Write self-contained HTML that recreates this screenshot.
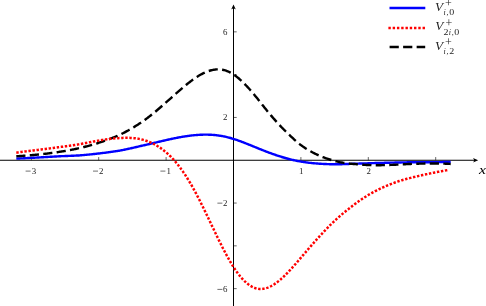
<!DOCTYPE html>
<html><head><meta charset="utf-8"><title>plot</title>
<style>html,body{margin:0;padding:0;background:#fff;overflow:hidden}body{width:486px;height:306px;position:relative;font-family:"Liberation Serif",serif}</style>
</head><body>
<svg width="486" height="306" viewBox="0 0 486 306" style="position:absolute;left:0;top:0;will-change:transform">
<line x1="0" y1="160.25" x2="475" y2="160.25" stroke="#000" stroke-width="1"/>
<line x1="233.5" y1="306" x2="233.5" y2="7.6" stroke="#000" stroke-width="1"/>
<path d="M478.2,160.25 L473.0,157.95 Q475.1,160.25 473.0,162.55 Z" fill="#000"/>
<path d="M233.5,4.4 L231.2,9.6 Q233.5,7.5 235.8,9.6 Z" fill="#000"/>
<line x1="31.30" y1="160.25" x2="31.30" y2="157.05" stroke="#000" stroke-width="0.6"/>
<line x1="98.70" y1="160.25" x2="98.70" y2="157.05" stroke="#000" stroke-width="0.6"/>
<line x1="166.10" y1="160.25" x2="166.10" y2="157.05" stroke="#000" stroke-width="0.6"/>
<line x1="300.90" y1="160.25" x2="300.90" y2="157.05" stroke="#000" stroke-width="0.6"/>
<line x1="368.30" y1="160.25" x2="368.30" y2="157.05" stroke="#000" stroke-width="0.6"/>
<line x1="435.70" y1="160.25" x2="435.70" y2="157.05" stroke="#000" stroke-width="0.6"/>
<line x1="233.5" y1="288.65" x2="236.7" y2="288.65" stroke="#000" stroke-width="0.6"/>
<line x1="233.5" y1="245.85" x2="236.7" y2="245.85" stroke="#000" stroke-width="0.6"/>
<line x1="233.5" y1="203.05" x2="236.7" y2="203.05" stroke="#000" stroke-width="0.6"/>
<line x1="233.5" y1="117.45" x2="236.7" y2="117.45" stroke="#000" stroke-width="0.6"/>
<line x1="233.5" y1="74.65" x2="236.7" y2="74.65" stroke="#000" stroke-width="0.6"/>
<line x1="233.5" y1="31.85" x2="236.7" y2="31.85" stroke="#000" stroke-width="0.6"/>
<line x1="25.60" y1="171.10" x2="30.60" y2="171.10" stroke="#111" stroke-width="0.6"/>
<text transform="translate(33.90,173.60) scale(1.2,1)" text-anchor="middle" style="font-family:'Liberation Serif',serif;font-size:7.4px;fill:#222">3</text>
<line x1="93.00" y1="171.10" x2="98.00" y2="171.10" stroke="#111" stroke-width="0.6"/>
<text transform="translate(101.30,173.60) scale(1.2,1)" text-anchor="middle" style="font-family:'Liberation Serif',serif;font-size:7.4px;fill:#222">2</text>
<line x1="160.40" y1="171.10" x2="165.40" y2="171.10" stroke="#111" stroke-width="0.6"/>
<text transform="translate(168.70,173.60) scale(1.2,1)" text-anchor="middle" style="font-family:'Liberation Serif',serif;font-size:7.4px;fill:#222">1</text>
<text transform="translate(301.20,173.60) scale(1.2,1)" text-anchor="middle" style="font-family:'Liberation Serif',serif;font-size:7.4px;fill:#222">1</text>
<text transform="translate(368.60,173.60) scale(1.2,1)" text-anchor="middle" style="font-family:'Liberation Serif',serif;font-size:7.4px;fill:#222">2</text>
<text transform="translate(225.20,291.90) scale(1.2,1)" text-anchor="middle" style="font-family:'Liberation Serif',serif;font-size:7.4px;fill:#222">6</text>
<line x1="217.40" y1="289.40" x2="222.40" y2="289.40" stroke="#111" stroke-width="0.6"/>
<text transform="translate(225.20,205.65) scale(1.2,1)" text-anchor="middle" style="font-family:'Liberation Serif',serif;font-size:7.4px;fill:#222">2</text>
<line x1="217.40" y1="203.15" x2="222.40" y2="203.15" stroke="#111" stroke-width="0.6"/>
<text transform="translate(225.20,120.10) scale(1.2,1)" text-anchor="middle" style="font-family:'Liberation Serif',serif;font-size:7.4px;fill:#222">2</text>
<text transform="translate(225.20,34.90) scale(1.2,1)" text-anchor="middle" style="font-family:'Liberation Serif',serif;font-size:7.4px;fill:#222">6</text>
<path d="M16.30,158.65 L17.17,158.61 L18.04,158.56 L18.91,158.51 L19.78,158.47 L20.65,158.42 L21.52,158.37 L22.39,158.33 L23.26,158.28 L24.13,158.24 L25.01,158.19 L25.88,158.14 L26.75,158.10 L27.62,158.05 L28.49,158.01 L29.36,157.96 L30.23,157.92 L31.10,157.87 L31.97,157.82 L32.84,157.78 L33.71,157.73 L34.58,157.69 L35.45,157.64 L36.32,157.59 L37.19,157.55 L38.06,157.50 L38.93,157.45 L39.80,157.41 L40.68,157.36 L41.55,157.31 L42.42,157.27 L43.29,157.22 L44.16,157.17 L45.03,157.12 L45.90,157.07 L46.77,157.02 L47.64,156.97 L48.51,156.92 L49.38,156.87 L50.25,156.82 L51.12,156.77 L51.99,156.72 L52.86,156.67 L53.73,156.62 L54.60,156.56 L55.47,156.51 L56.34,156.46 L57.22,156.40 L58.09,156.35 L58.96,156.29 L59.83,156.24 L60.70,156.20 L61.57,156.17 L62.44,156.14 L63.31,156.11 L64.18,156.08 L65.05,156.05 L65.92,156.02 L66.79,155.98 L67.66,155.95 L68.53,155.91 L69.40,155.88 L70.27,155.84 L71.14,155.81 L72.01,155.77 L72.89,155.73 L73.76,155.69 L74.63,155.65 L75.50,155.61 L76.37,155.56 L77.24,155.52 L78.11,155.48 L78.98,155.43 L79.85,155.38 L80.72,155.31 L81.59,155.24 L82.46,155.16 L83.33,155.08 L84.20,155.00 L85.07,154.92 L85.94,154.84 L86.81,154.75 L87.68,154.67 L88.55,154.58 L89.43,154.49 L90.30,154.41 L91.17,154.32 L92.04,154.23 L92.91,154.13 L93.78,154.04 L94.65,153.95 L95.52,153.85 L96.39,153.75 L97.26,153.66 L98.13,153.56 L99.00,153.46 L99.87,153.35 L100.74,153.25 L101.61,153.14 L102.48,153.04 L103.35,152.93 L104.22,152.82 L105.10,152.71 L105.97,152.59 L106.84,152.48 L107.71,152.36 L108.58,152.25 L109.45,152.13 L110.32,152.01 L111.19,151.88 L112.06,151.76 L112.93,151.63 L113.80,151.51 L114.67,151.38 L115.54,151.25 L116.41,151.11 L117.28,150.98 L118.15,150.84 L119.02,150.71 L119.89,150.57 L120.76,150.40 L121.64,150.23 L122.51,150.06 L123.38,149.88 L124.25,149.70 L125.12,149.52 L125.99,149.34 L126.86,149.16 L127.73,148.98 L128.60,148.79 L129.47,148.60 L130.34,148.41 L131.21,148.22 L132.08,148.02 L132.95,147.82 L133.82,147.62 L134.69,147.42 L135.56,147.22 L136.43,147.01 L137.31,146.81 L138.18,146.60 L139.05,146.39 L139.92,146.17 L140.79,145.98 L141.66,145.79 L142.53,145.60 L143.40,145.40 L144.27,145.21 L145.14,145.01 L146.01,144.81 L146.88,144.61 L147.75,144.41 L148.62,144.21 L149.49,144.00 L150.36,143.80 L151.23,143.59 L152.10,143.39 L152.97,143.18 L153.85,142.98 L154.72,142.77 L155.59,142.56 L156.46,142.36 L157.33,142.15 L158.20,141.94 L159.07,141.74 L159.94,141.53 L160.81,141.32 L161.68,141.12 L162.55,140.92 L163.42,140.71 L164.29,140.51 L165.16,140.31 L166.03,140.12 L166.90,139.92 L167.77,139.72 L168.64,139.53 L169.52,139.34 L170.39,139.15 L171.26,138.96 L172.13,138.77 L173.00,138.59 L173.87,138.41 L174.74,138.23 L175.61,138.06 L176.48,137.89 L177.35,137.72 L178.22,137.55 L179.09,137.39 L179.96,137.23 L180.83,137.07 L181.70,136.92 L182.57,136.77 L183.44,136.63 L184.31,136.49 L185.18,136.35 L186.06,136.22 L186.93,136.09 L187.80,135.97 L188.67,135.85 L189.54,135.73 L190.41,135.62 L191.28,135.52 L192.15,135.42 L193.02,135.33 L193.89,135.24 L194.76,135.16 L195.63,135.08 L196.50,135.01 L197.37,134.94 L198.24,134.88 L199.11,134.83 L199.98,134.78 L200.85,134.74 L201.73,134.71 L202.60,134.68 L203.47,134.66 L204.34,134.64 L205.21,134.64 L206.08,134.64 L206.95,134.64 L207.82,134.66 L208.69,134.68 L209.56,134.71 L210.43,134.75 L211.30,134.79 L212.17,134.85 L213.04,134.91 L213.91,134.98 L214.78,135.06 L215.65,135.14 L216.52,135.24 L217.39,135.34 L218.27,135.45 L219.14,135.58 L220.01,135.71 L220.88,135.85 L221.75,136.00 L222.62,136.16 L223.49,136.32 L224.36,136.50 L225.23,136.69 L226.10,136.89 L226.97,137.10 L227.84,137.31 L228.71,137.54 L229.58,137.78 L230.45,138.02 L231.32,138.27 L232.19,138.53 L233.06,138.80 L233.94,139.07 L234.81,139.35 L235.68,139.64 L236.55,139.93 L237.42,140.23 L238.29,140.53 L239.16,140.84 L240.03,141.16 L240.90,141.48 L241.77,141.80 L242.64,142.13 L243.51,142.47 L244.38,142.80 L245.25,143.14 L246.12,143.49 L246.99,143.83 L247.86,144.18 L248.73,144.53 L249.61,144.88 L250.48,145.23 L251.35,145.59 L252.22,145.94 L253.09,146.30 L253.96,146.65 L254.83,147.01 L255.70,147.36 L256.57,147.72 L257.44,148.07 L258.31,148.43 L259.18,148.78 L260.05,149.13 L260.92,149.47 L261.79,149.82 L262.66,150.16 L263.53,150.51 L264.40,150.85 L265.27,151.18 L266.15,151.52 L267.02,151.85 L267.89,152.18 L268.76,152.51 L269.63,152.83 L270.50,153.15 L271.37,153.47 L272.24,153.78 L273.11,154.09 L273.98,154.40 L274.85,154.70 L275.72,155.00 L276.59,155.30 L277.46,155.59 L278.33,155.88 L279.20,156.16 L280.07,156.44 L280.94,156.72 L281.82,156.99 L282.69,157.25 L283.56,157.51 L284.43,157.77 L285.30,158.02 L286.17,158.27 L287.04,158.51 L287.91,158.74 L288.78,158.97 L289.65,159.19 L290.52,159.41 L291.39,159.62 L292.26,159.83 L293.13,160.03 L294.00,160.23 L294.87,160.41 L295.74,160.60 L296.61,160.77 L297.48,160.95 L298.36,161.11 L299.23,161.27 L300.10,161.43 L300.97,161.58 L301.84,161.72 L302.71,161.87 L303.58,162.00 L304.45,162.13 L305.32,162.26 L306.19,162.38 L307.06,162.49 L307.93,162.61 L308.80,162.71 L309.67,162.82 L310.54,162.92 L311.41,163.01 L312.28,163.10 L313.15,163.19 L314.03,163.27 L314.90,163.35 L315.77,163.43 L316.64,163.50 L317.51,163.57 L318.38,163.63 L319.25,163.69 L320.12,163.75 L320.99,163.80 L321.86,163.86 L322.73,163.90 L323.60,163.95 L324.47,163.99 L325.34,164.03 L326.21,164.07 L327.08,164.10 L327.95,164.14 L328.82,164.17 L329.69,164.19 L330.57,164.22 L331.44,164.24 L332.31,164.26 L333.18,164.28 L334.05,164.30 L334.92,164.31 L335.79,164.30 L336.66,164.29 L337.53,164.28 L338.40,164.26 L339.27,164.24 L340.14,164.22 L341.01,164.20 L341.88,164.18 L342.75,164.15 L343.62,164.13 L344.49,164.10 L345.36,164.07 L346.24,164.04 L347.11,164.01 L347.98,163.98 L348.85,163.94 L349.72,163.91 L350.59,163.87 L351.46,163.83 L352.33,163.79 L353.20,163.75 L354.07,163.71 L354.94,163.66 L355.81,163.65 L356.68,163.63 L357.55,163.61 L358.42,163.59 L359.29,163.56 L360.16,163.54 L361.03,163.52 L361.90,163.49 L362.78,163.47 L363.65,163.44 L364.52,163.42 L365.39,163.39 L366.26,163.36 L367.13,163.33 L368.00,163.30 L368.87,163.27 L369.74,163.24 L370.61,163.21 L371.48,163.18 L372.35,163.15 L373.22,163.12 L374.09,163.09 L374.96,163.06 L375.83,163.03 L376.70,163.01 L377.57,162.99 L378.45,162.97 L379.32,162.94 L380.19,162.92 L381.06,162.90 L381.93,162.88 L382.80,162.85 L383.67,162.83 L384.54,162.81 L385.41,162.79 L386.28,162.77 L387.15,162.74 L388.02,162.72 L388.89,162.70 L389.76,162.68 L390.63,162.66 L391.50,162.64 L392.37,162.62 L393.24,162.60 L394.11,162.58 L394.99,162.56 L395.86,162.54 L396.73,162.52 L397.60,162.50 L398.47,162.48 L399.34,162.46 L400.21,162.44 L401.08,162.43 L401.95,162.41 L402.82,162.39 L403.69,162.38 L404.56,162.36 L405.43,162.34 L406.30,162.33 L407.17,162.31 L408.04,162.30 L408.91,162.28 L409.78,162.27 L410.66,162.26 L411.53,162.24 L412.40,162.24 L413.27,162.24 L414.14,162.24 L415.01,162.24 L415.88,162.24 L416.75,162.25 L417.62,162.25 L418.49,162.25 L419.36,162.25 L420.23,162.26 L421.10,162.26 L421.97,162.26 L422.84,162.27 L423.71,162.27 L424.58,162.28 L425.45,162.28 L426.32,162.28 L427.20,162.29 L428.07,162.29 L428.94,162.30 L429.81,162.30 L430.68,162.29 L431.55,162.28 L432.42,162.26 L433.29,162.24 L434.16,162.23 L435.03,162.21 L435.90,162.20 L436.77,162.18 L437.64,162.17 L438.51,162.15 L439.38,162.13 L440.25,162.12 L441.12,162.10 L441.99,162.09 L442.87,162.07 L443.74,162.05 L444.61,162.04 L445.48,162.02 L446.35,162.00 L447.22,161.99 L448.09,161.97 L448.96,161.95 L449.83,161.93 L450.70,161.91" fill="none" stroke="#0000ff" stroke-width="2.4"/>
<path d="M16.30,156.29 L17.17,156.23 L18.04,156.17 L18.91,156.11 L19.78,156.05 L20.65,155.99 L21.52,155.93 L22.39,155.86 L23.26,155.80 L24.13,155.74 L25.01,155.67 L25.88,155.60 L26.75,155.54 L27.62,155.47 L28.49,155.40 L29.36,155.32 L30.23,155.25 L31.10,155.18 L31.97,155.10 L32.84,155.03 L33.71,154.95 L34.58,154.87 L35.45,154.79 L36.32,154.71 L37.19,154.62 L38.06,154.54 L38.93,154.45 L39.80,154.36 L40.68,154.27 L41.55,154.18 L42.42,154.09 L43.29,153.99 L44.16,153.90 L45.03,153.80 L45.90,153.70 L46.77,153.59 L47.64,153.49 L48.51,153.38 L49.38,153.27 L50.25,153.16 L51.12,153.05 L51.99,152.93 L52.86,152.82 L53.73,152.70 L54.60,152.57 L55.47,152.45 L56.34,152.32 L57.22,152.20 L58.09,152.06 L58.96,151.93 L59.83,151.80 L60.70,151.66 L61.57,151.52 L62.44,151.38 L63.31,151.24 L64.18,151.10 L65.05,150.95 L65.92,150.80 L66.79,150.65 L67.66,150.49 L68.53,150.33 L69.40,150.17 L70.27,150.01 L71.14,149.84 L72.01,149.67 L72.89,149.50 L73.76,149.32 L74.63,149.14 L75.50,148.96 L76.37,148.78 L77.24,148.59 L78.11,148.39 L78.98,148.20 L79.85,148.00 L80.72,147.80 L81.59,147.59 L82.46,147.38 L83.33,147.17 L84.20,146.96 L85.07,146.74 L85.94,146.52 L86.81,146.29 L87.68,146.06 L88.55,145.83 L89.43,145.59 L90.30,145.35 L91.17,145.10 L92.04,144.85 L92.91,144.60 L93.78,144.34 L94.65,144.08 L95.52,143.82 L96.39,143.55 L97.26,143.28 L98.13,143.00 L99.00,142.72 L99.87,142.44 L100.74,142.15 L101.61,141.86 L102.48,141.57 L103.35,141.27 L104.22,140.97 L105.10,140.67 L105.97,140.35 L106.84,140.04 L107.71,139.72 L108.58,139.40 L109.45,139.07 L110.32,138.74 L111.19,138.40 L112.06,138.06 L112.93,137.71 L113.80,137.36 L114.67,137.00 L115.54,136.64 L116.41,136.27 L117.28,135.89 L118.15,135.51 L119.02,135.13 L119.89,134.74 L120.76,134.32 L121.64,133.89 L122.51,133.45 L123.38,133.01 L124.25,132.56 L125.12,132.11 L125.99,131.65 L126.86,131.18 L127.73,130.70 L128.60,130.22 L129.47,129.73 L130.34,129.23 L131.21,128.73 L132.08,128.22 L132.95,127.70 L133.82,127.17 L134.69,126.64 L135.56,126.09 L136.43,125.54 L137.31,124.98 L138.18,124.41 L139.05,123.83 L139.92,123.25 L140.79,122.67 L141.66,122.08 L142.53,121.49 L143.40,120.88 L144.27,120.27 L145.14,119.65 L146.01,119.01 L146.88,118.37 L147.75,117.72 L148.62,117.06 L149.49,116.39 L150.36,115.71 L151.23,115.02 L152.10,114.33 L152.97,113.63 L153.85,112.92 L154.72,112.20 L155.59,111.48 L156.46,110.75 L157.33,110.01 L158.20,109.27 L159.07,108.53 L159.94,107.78 L160.81,107.03 L161.68,106.27 L162.55,105.51 L163.42,104.74 L164.29,103.98 L165.16,103.21 L166.03,102.43 L166.90,101.66 L167.77,100.89 L168.64,100.11 L169.52,99.33 L170.39,98.56 L171.26,97.78 L172.13,97.01 L173.00,96.23 L173.87,95.46 L174.74,94.68 L175.61,93.91 L176.48,93.15 L177.35,92.38 L178.22,91.62 L179.09,90.86 L179.96,90.10 L180.83,89.35 L181.70,88.60 L182.57,87.86 L183.44,87.13 L184.31,86.40 L185.18,85.67 L186.06,84.96 L186.93,84.25 L187.80,83.56 L188.67,82.87 L189.54,82.19 L190.41,81.52 L191.28,80.87 L192.15,80.22 L193.02,79.59 L193.89,78.97 L194.76,78.37 L195.63,77.78 L196.50,77.20 L197.37,76.64 L198.24,76.09 L199.11,75.57 L199.98,75.06 L200.85,74.56 L201.73,74.09 L202.60,73.63 L203.47,73.20 L204.34,72.78 L205.21,72.39 L206.08,72.01 L206.95,71.66 L207.82,71.33 L208.69,71.03 L209.56,70.75 L210.43,70.49 L211.30,70.26 L212.17,70.05 L213.04,69.87 L213.91,69.72 L214.78,69.59 L215.65,69.49 L216.52,69.42 L217.39,69.38 L218.27,69.37 L219.14,69.39 L220.01,69.44 L220.88,69.52 L221.75,69.64 L222.62,69.79 L223.49,69.97 L224.36,70.18 L225.23,70.43 L226.10,70.72 L226.97,71.03 L227.84,71.39 L228.71,71.77 L229.58,72.19 L230.45,72.64 L231.32,73.12 L232.19,73.63 L233.06,74.18 L233.94,74.75 L234.81,75.35 L235.68,75.98 L236.55,76.64 L237.42,77.32 L238.29,78.04 L239.16,78.77 L240.03,79.54 L240.90,80.33 L241.77,81.14 L242.64,81.98 L243.51,82.84 L244.38,83.72 L245.25,84.62 L246.12,85.51 L246.99,86.41 L247.86,87.34 L248.73,88.29 L249.61,89.26 L250.48,90.25 L251.35,91.25 L252.22,92.27 L253.09,93.31 L253.96,94.35 L254.83,95.41 L255.70,96.47 L256.57,97.54 L257.44,98.62 L258.31,99.71 L259.18,100.83 L260.05,101.94 L260.92,103.06 L261.79,104.16 L262.66,105.27 L263.53,106.36 L264.40,107.45 L265.27,108.53 L266.15,109.61 L267.02,110.67 L267.89,111.73 L268.76,112.78 L269.63,113.82 L270.50,114.86 L271.37,115.88 L272.24,116.90 L273.11,117.91 L273.98,118.91 L274.85,119.90 L275.72,120.88 L276.59,121.85 L277.46,122.82 L278.33,123.77 L279.20,124.71 L280.07,125.65 L280.94,126.57 L281.82,127.48 L282.69,128.38 L283.56,129.27 L284.43,130.15 L285.30,131.02 L286.17,131.88 L287.04,132.72 L287.91,133.56 L288.78,134.38 L289.65,135.19 L290.52,136.02 L291.39,136.86 L292.26,137.68 L293.13,138.49 L294.00,139.29 L294.87,140.08 L295.74,140.85 L296.61,141.61 L297.48,142.36 L298.36,143.09 L299.23,143.81 L300.10,144.51 L300.97,145.15 L301.84,145.77 L302.71,146.38 L303.58,146.98 L304.45,147.56 L305.32,148.13 L306.19,148.69 L307.06,149.23 L307.93,149.77 L308.80,150.28 L309.67,150.79 L310.54,151.29 L311.41,151.77 L312.28,152.24 L313.15,152.70 L314.03,153.15 L314.90,153.58 L315.77,154.01 L316.64,154.42 L317.51,154.83 L318.38,155.22 L319.25,155.61 L320.12,155.98 L320.99,156.34 L321.86,156.70 L322.73,157.04 L323.60,157.38 L324.47,157.71 L325.34,158.03 L326.21,158.33 L327.08,158.64 L327.95,158.93 L328.82,159.21 L329.69,159.49 L330.57,159.76 L331.44,160.02 L332.31,160.27 L333.18,160.52 L334.05,160.76 L334.92,160.99 L335.79,161.22 L336.66,161.44 L337.53,161.65 L338.40,161.86 L339.27,162.06 L340.14,162.25 L341.01,162.40 L341.88,162.55 L342.75,162.69 L343.62,162.83 L344.49,162.95 L345.36,163.08 L346.24,163.19 L347.11,163.31 L347.98,163.41 L348.85,163.51 L349.72,163.61 L350.59,163.70 L351.46,163.78 L352.33,163.86 L353.20,163.93 L354.07,164.00 L354.94,164.07 L355.81,164.16 L356.68,164.25 L357.55,164.34 L358.42,164.42 L359.29,164.49 L360.16,164.57 L361.03,164.63 L361.90,164.70 L362.78,164.76 L363.65,164.81 L364.52,164.86 L365.39,164.91 L366.26,164.96 L367.13,164.99 L368.00,165.03 L368.87,165.06 L369.74,165.09 L370.61,165.12 L371.48,165.14 L372.35,165.16 L373.22,165.17 L374.09,165.18 L374.96,165.19 L375.83,165.20 L376.70,165.20 L377.57,165.20 L378.45,165.20 L379.32,165.19 L380.19,165.19 L381.06,165.18 L381.93,165.16 L382.80,165.15 L383.67,165.13 L384.54,165.11 L385.41,165.09 L386.28,165.07 L387.15,165.04 L388.02,165.01 L388.89,164.98 L389.76,164.95 L390.63,164.92 L391.50,164.89 L392.37,164.85 L393.24,164.81 L394.11,164.78 L394.99,164.74 L395.86,164.70 L396.73,164.65 L397.60,164.61 L398.47,164.57 L399.34,164.52 L400.21,164.48 L401.08,164.43 L401.95,164.39 L402.82,164.34 L403.69,164.29 L404.56,164.25 L405.43,164.20 L406.30,164.15 L407.17,164.10 L408.04,164.06 L408.91,164.01 L409.78,163.96 L410.66,163.93 L411.53,163.90 L412.40,163.87 L413.27,163.85 L414.14,163.82 L415.01,163.79 L415.88,163.77 L416.75,163.74 L417.62,163.72 L418.49,163.69 L419.36,163.67 L420.23,163.65 L421.10,163.63 L421.97,163.62 L422.84,163.60 L423.71,163.58 L424.58,163.57 L425.45,163.56 L426.32,163.55 L427.20,163.54 L428.07,163.53 L428.94,163.53 L429.81,163.53 L430.68,163.53 L431.55,163.53 L432.42,163.53 L433.29,163.52 L434.16,163.51 L435.03,163.51 L435.90,163.51 L436.77,163.51 L437.64,163.51 L438.51,163.52 L439.38,163.53 L440.25,163.54 L441.12,163.56 L441.99,163.58 L442.87,163.60 L443.74,163.63 L444.61,163.66 L445.48,163.69 L446.35,163.73 L447.22,163.77 L448.09,163.82 L448.96,163.86 L449.83,163.92 L450.70,163.97" fill="none" stroke="#000" stroke-width="2.4" stroke-dasharray="9.2 4.32"/>
<path d="M16.30,152.65 L17.16,152.53 L18.03,152.41 L18.89,152.29 L19.76,152.17 L20.62,152.05 L21.49,151.94 L22.35,151.83 L23.22,151.71 L24.08,151.60 L24.95,151.49 L25.81,151.38 L26.67,151.27 L27.54,151.16 L28.40,151.05 L29.27,150.95 L30.13,150.84 L31.00,150.73 L31.86,150.63 L32.73,150.52 L33.59,150.41 L34.46,150.31 L35.32,150.20 L36.18,150.10 L37.05,149.99 L37.91,149.89 L38.78,149.78 L39.64,149.68 L40.51,149.57 L41.37,149.47 L42.24,149.36 L43.10,149.25 L43.96,149.15 L44.83,149.04 L45.69,148.93 L46.56,148.82 L47.42,148.71 L48.29,148.60 L49.15,148.49 L50.02,148.38 L50.88,148.27 L51.75,148.15 L52.61,148.04 L53.47,147.92 L54.34,147.80 L55.20,147.69 L56.07,147.57 L56.93,147.45 L57.80,147.32 L58.66,147.20 L59.53,147.07 L60.39,146.96 L61.26,146.86 L62.12,146.75 L62.98,146.65 L63.85,146.54 L64.71,146.43 L65.58,146.32 L66.44,146.20 L67.31,146.09 L68.17,145.97 L69.04,145.85 L69.90,145.73 L70.77,145.60 L71.63,145.47 L72.49,145.35 L73.36,145.21 L74.22,145.08 L75.09,144.95 L75.95,144.81 L76.82,144.67 L77.68,144.53 L78.55,144.39 L79.41,144.25 L80.28,144.10 L81.14,143.93 L82.00,143.76 L82.87,143.59 L83.73,143.42 L84.60,143.24 L85.46,143.07 L86.33,142.90 L87.19,142.73 L88.06,142.56 L88.92,142.39 L89.78,142.22 L90.65,142.06 L91.51,141.89 L92.38,141.73 L93.24,141.56 L94.11,141.40 L94.97,141.24 L95.84,141.08 L96.70,140.92 L97.57,140.77 L98.43,140.62 L99.29,140.47 L100.16,140.32 L101.02,140.17 L101.89,140.03 L102.75,139.89 L103.62,139.76 L104.48,139.63 L105.35,139.50 L106.21,139.37 L107.08,139.25 L107.94,139.14 L108.80,139.02 L109.67,138.92 L110.53,138.81 L111.40,138.71 L112.26,138.62 L113.13,138.53 L113.99,138.45 L114.86,138.37 L115.72,138.30 L116.59,138.24 L117.45,138.18 L118.31,138.13 L119.18,138.08 L120.04,138.05 L120.91,137.99 L121.77,137.94 L122.64,137.90 L123.50,137.87 L124.37,137.84 L125.23,137.82 L126.10,137.82 L126.96,137.82 L127.82,137.83 L128.69,137.85 L129.55,137.87 L130.42,137.91 L131.28,137.96 L132.15,138.02 L133.01,138.08 L133.88,138.16 L134.74,138.25 L135.61,138.35 L136.47,138.46 L137.33,138.58 L138.20,138.72 L139.06,138.87 L139.93,139.02 L140.79,139.22 L141.66,139.43 L142.52,139.66 L143.39,139.90 L144.25,140.15 L145.11,140.42 L145.98,140.70 L146.84,141.00 L147.71,141.32 L148.57,141.65 L149.44,141.99 L150.30,142.36 L151.17,142.74 L152.03,143.14 L152.90,143.55 L153.76,143.99 L154.62,144.44 L155.49,144.91 L156.35,145.40 L157.22,145.91 L158.08,146.44 L158.95,146.98 L159.81,147.55 L160.68,148.14 L161.54,148.76 L162.41,149.39 L163.27,150.04 L164.13,150.72 L165.00,151.42 L165.86,152.14 L166.73,152.88 L167.59,153.65 L168.46,154.44 L169.32,155.26 L170.19,156.10 L171.05,156.96 L171.92,157.85 L172.78,158.77 L173.64,159.71 L174.51,160.68 L175.37,161.67 L176.24,162.69 L177.10,163.74 L177.97,164.82 L178.83,165.92 L179.70,167.05 L180.56,168.21 L181.43,169.40 L182.29,170.62 L183.15,171.86 L184.02,173.13 L184.88,174.43 L185.75,175.75 L186.61,177.11 L187.48,178.48 L188.34,179.89 L189.21,181.31 L190.07,182.76 L190.93,184.24 L191.80,185.74 L192.66,187.26 L193.53,188.81 L194.39,190.38 L195.26,191.97 L196.12,193.59 L196.99,195.22 L197.85,196.88 L198.72,198.55 L199.58,200.25 L200.44,201.96 L201.31,203.69 L202.17,205.43 L203.04,207.19 L203.90,208.96 L204.77,210.74 L205.63,212.53 L206.50,214.33 L207.36,216.13 L208.23,217.94 L209.09,219.75 L209.95,221.57 L210.82,223.39 L211.68,225.20 L212.55,227.02 L213.41,228.83 L214.28,230.64 L215.14,232.45 L216.01,234.24 L216.87,236.03 L217.74,237.81 L218.60,239.58 L219.46,241.34 L220.33,243.08 L221.19,244.81 L222.06,246.52 L222.92,248.21 L223.79,249.89 L224.65,251.54 L225.52,253.17 L226.38,254.78 L227.25,256.37 L228.11,257.93 L228.97,259.46 L229.84,260.97 L230.70,262.44 L231.57,263.88 L232.43,265.30 L233.30,266.67 L234.16,268.01 L235.03,269.32 L235.89,270.59 L236.75,271.82 L237.62,273.00 L238.48,274.15 L239.35,275.26 L240.21,276.33 L241.08,277.35 L241.94,278.34 L242.81,279.28 L243.67,280.19 L244.54,281.05 L245.40,281.86 L246.26,282.64 L247.13,283.37 L247.99,284.06 L248.86,284.70 L249.72,285.30 L250.59,285.85 L251.45,286.37 L252.32,286.83 L253.18,287.25 L254.05,287.63 L254.91,287.96 L255.77,288.24 L256.64,288.48 L257.50,288.67 L258.37,288.81 L259.23,288.91 L260.10,288.96 L260.96,288.97 L261.83,288.93 L262.69,288.86 L263.56,288.74 L264.42,288.58 L265.28,288.39 L266.15,288.15 L267.01,287.88 L267.88,287.57 L268.74,287.23 L269.61,286.85 L270.47,286.44 L271.34,285.99 L272.20,285.51 L273.07,285.01 L273.93,284.47 L274.79,283.90 L275.66,283.31 L276.52,282.69 L277.39,282.04 L278.25,281.36 L279.12,280.66 L279.98,279.94 L280.85,279.20 L281.71,278.43 L282.57,277.65 L283.44,276.84 L284.30,276.01 L285.17,275.17 L286.03,274.31 L286.90,273.43 L287.76,272.54 L288.63,271.63 L289.49,270.71 L290.36,269.78 L291.22,268.83 L292.08,267.88 L292.95,266.91 L293.81,265.94 L294.68,264.95 L295.54,263.96 L296.41,262.97 L297.27,261.96 L298.14,260.96 L299.00,259.95 L299.87,258.93 L300.73,257.92 L301.59,256.90 L302.46,255.88 L303.32,254.87 L304.19,253.85 L305.05,252.84 L305.92,251.83 L306.78,250.82 L307.65,249.82 L308.51,248.81 L309.38,247.82 L310.24,246.82 L311.10,245.83 L311.97,244.84 L312.83,243.85 L313.70,242.87 L314.56,241.90 L315.43,240.92 L316.29,239.95 L317.16,238.99 L318.02,238.03 L318.89,237.08 L319.75,236.13 L320.61,235.18 L321.48,234.25 L322.34,233.31 L323.21,232.38 L324.07,231.46 L324.94,230.55 L325.80,229.64 L326.67,228.73 L327.53,227.84 L328.39,226.95 L329.26,226.06 L330.12,225.19 L330.99,224.35 L331.85,223.51 L332.72,222.68 L333.58,221.86 L334.45,221.04 L335.31,220.23 L336.18,219.43 L337.04,218.64 L337.90,217.86 L338.77,217.09 L339.63,216.32 L340.50,215.57 L341.36,214.82 L342.23,214.08 L343.09,213.35 L343.96,212.63 L344.82,211.93 L345.69,211.23 L346.55,210.54 L347.41,209.85 L348.28,209.18 L349.14,208.52 L350.01,207.86 L350.87,207.17 L351.74,206.49 L352.60,205.81 L353.47,205.15 L354.33,204.49 L355.20,203.84 L356.06,203.20 L356.92,202.56 L357.79,201.94 L358.65,201.32 L359.52,200.72 L360.38,200.12 L361.25,199.52 L362.11,198.94 L362.98,198.36 L363.84,197.80 L364.71,197.23 L365.57,196.68 L366.43,196.14 L367.30,195.60 L368.16,195.07 L369.03,194.54 L369.89,194.03 L370.76,193.54 L371.62,193.06 L372.49,192.59 L373.35,192.12 L374.22,191.67 L375.08,191.21 L375.94,190.77 L376.81,190.33 L377.67,189.90 L378.54,189.48 L379.40,189.06 L380.27,188.64 L381.13,188.24 L382.00,187.84 L382.86,187.44 L383.72,187.06 L384.59,186.67 L385.45,186.30 L386.32,185.93 L387.18,185.56 L388.05,185.20 L388.91,184.85 L389.78,184.50 L390.64,184.16 L391.51,183.82 L392.37,183.49 L393.23,183.16 L394.10,182.84 L394.96,182.52 L395.83,182.21 L396.69,181.90 L397.56,181.59 L398.42,181.30 L399.29,181.00 L400.15,180.72 L401.02,180.46 L401.88,180.20 L402.74,179.95 L403.61,179.71 L404.47,179.46 L405.34,179.23 L406.20,178.99 L407.07,178.76 L407.93,178.54 L408.80,178.31 L409.66,178.09 L410.53,177.88 L411.39,177.67 L412.25,177.46 L413.12,177.25 L413.98,177.05 L414.85,176.85 L415.71,176.65 L416.58,176.46 L417.44,176.27 L418.31,176.08 L419.17,175.87 L420.04,175.66 L420.90,175.46 L421.76,175.26 L422.63,175.06 L423.49,174.87 L424.36,174.67 L425.22,174.48 L426.09,174.29 L426.95,174.11 L427.82,173.92 L428.68,173.74 L429.54,173.56 L430.41,173.38 L431.27,173.20 L432.14,173.02 L433.00,172.85 L433.87,172.68 L434.73,172.50 L435.60,172.33 L436.46,172.17 L437.33,172.00 L438.19,171.83 L439.05,171.66 L439.92,171.50 L440.78,171.33 L441.65,171.17 L442.51,171.01 L443.38,170.85 L444.24,170.68 L445.11,170.52 L445.97,170.36 L446.84,170.20 L447.70,170.04" fill="none" stroke="#ff0000" stroke-width="2.5" stroke-dasharray="2.4 1.676"/>
<line x1="389.5" y1="8.05" x2="425.3" y2="8.05" stroke="#0000ff" stroke-width="2.4"/>
<line x1="388.4" y1="27.9" x2="425.2" y2="27.9" stroke="#ff0000" stroke-width="2.5" stroke-dasharray="2.4 1.87"/>
<line x1="389.6" y1="47.0" x2="425.2" y2="47.0" stroke="#000" stroke-width="2.4" stroke-dasharray="9.2 4.32"/>
<text transform="translate(479.0,173.7) scale(1.3,1)" style="font-family:'Liberation Serif',serif;font-style:italic;font-size:12px;fill:#000">x</text>
<text x="434.90" y="10.70" style="font-family:'Liberation Serif',serif;fill:#262626;font-size:13.2px;font-style:italic">V</text><text x="448.50" y="7.10" text-anchor="middle" style="font-family:'Liberation Serif',serif;fill:#262626;font-size:12px">+</text><text x="443.40" y="14.80" style="font-family:'Liberation Serif',serif;fill:#262626;font-size:8px;font-style:italic">i</text><text x="446.60" y="14.80" style="font-family:'Liberation Serif',serif;fill:#262626;font-size:8px">,</text><text transform="translate(449.20,14.80) scale(1.25,1)" style="font-family:'Liberation Serif',serif;fill:#262626;font-size:8px">0</text>
<text x="435.20" y="30.40" style="font-family:'Liberation Serif',serif;fill:#262626;font-size:13.2px;font-style:italic">V</text><text x="448.80" y="26.80" text-anchor="middle" style="font-family:'Liberation Serif',serif;fill:#262626;font-size:12px">+</text><text transform="translate(443.50,34.50) scale(1.25,1)" style="font-family:'Liberation Serif',serif;fill:#262626;font-size:8px">2</text><text x="448.70" y="34.50" style="font-family:'Liberation Serif',serif;fill:#262626;font-size:8px;font-style:italic">i</text><text x="451.70" y="34.50" style="font-family:'Liberation Serif',serif;fill:#262626;font-size:8px">,</text><text transform="translate(454.30,34.50) scale(1.25,1)" style="font-family:'Liberation Serif',serif;fill:#262626;font-size:8px">0</text>
<text x="434.90" y="49.90" style="font-family:'Liberation Serif',serif;fill:#262626;font-size:13.2px;font-style:italic">V</text><text x="448.50" y="46.30" text-anchor="middle" style="font-family:'Liberation Serif',serif;fill:#262626;font-size:12px">+</text><text x="443.40" y="54.00" style="font-family:'Liberation Serif',serif;fill:#262626;font-size:8px;font-style:italic">i</text><text x="446.60" y="54.00" style="font-family:'Liberation Serif',serif;fill:#262626;font-size:8px">,</text><text transform="translate(449.20,54.00) scale(1.25,1)" style="font-family:'Liberation Serif',serif;fill:#262626;font-size:8px">2</text>
</svg>
</body></html>
